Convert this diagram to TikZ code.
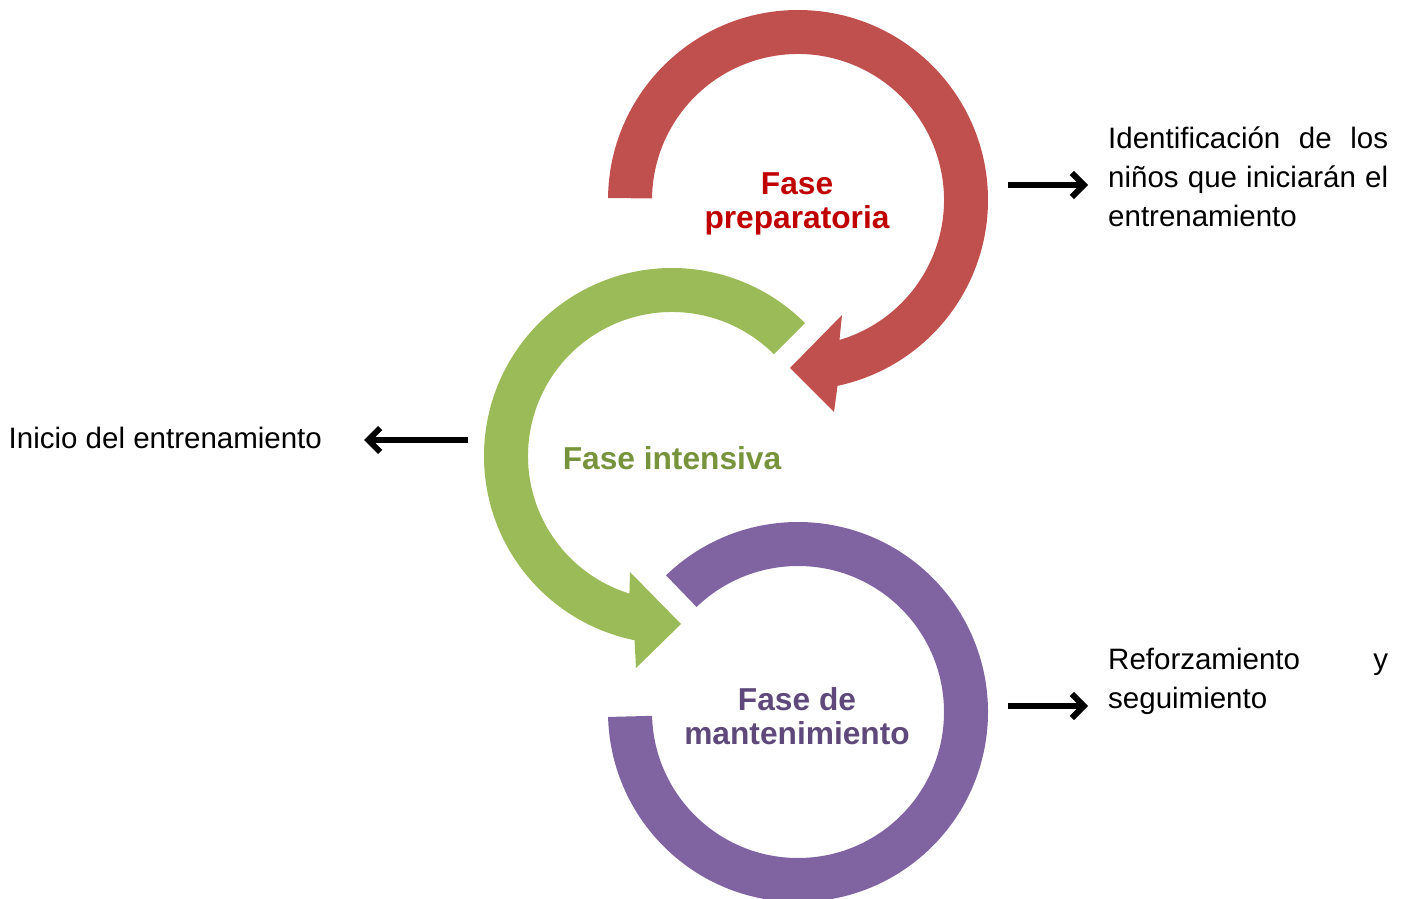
\documentclass[tikz,border=0pt]{standalone}
\usepackage{fontspec}
\setmainfont{Liberation Sans}
\usetikzlibrary{arrows.meta}
\definecolor{ringred}{HTML}{C0504D}
\definecolor{ringgreen}{HTML}{9BBB59}
\definecolor{ringpurple}{HTML}{8064A2}
\definecolor{labred}{HTML}{C00000}
\definecolor{labgreen}{HTML}{77933C}
\definecolor{labpurple}{HTML}{5F497A}
\tikzset{
  phase/.style={align=center, inner sep=0pt, font=\fontsize{31.7pt}{34pt}\selectfont\bfseries},
  txt/.style={inner sep=0pt, font=\fontsize{29.5pt}{39pt}\selectfont},
  pointer/.style={line width=6pt, black, -{Straight Barb[length=12pt,width=24pt]}}
}
\begin{document}
\begin{tikzpicture}[x=1pt,y=1pt]
\useasboundingbox (0,0) rectangle (1405,898);
\clip (0,0) rectangle (1405,898);
% green ring (Fase intensiva)
\begin{scope}[shift={(672,442)}]
\fill[ringgreen] (45:188pt) arc[start angle=45, end angle=258.5, radius=188pt]
  -- (-36pt,-212pt) -- (9pt,-168pt) -- (-42pt,-116pt)
  -- (252.8:144pt) arc[start angle=252.8, end angle=45, radius=144pt] -- cycle;
\end{scope}
% red ring (Fase preparatoria)
\begin{scope}[shift={(798,698)}]
\fill[ringred] (179.4:190pt) arc[start angle=179.4, end angle=-78, radius=190pt]
  -- (36pt,-212pt) -- (-8pt,-168pt) -- (44pt,-115pt)
  -- (-73.5:146pt) arc[start angle=-73.5, end angle=179.4, radius=146pt] -- cycle;
\end{scope}
% purple ring (Fase de mantenimiento)
\begin{scope}[shift={(798,186)}]
\fill[ringpurple] (134:190pt) arc[start angle=134, end angle=-178.5, radius=190pt]
  -- (-178.5:146pt) arc[start angle=-178.5, end angle=134, radius=146pt] -- cycle;
\end{scope}
% phase labels
\node[phase, text=labred] (prep) at (797,694.5) {Fase\\preparatoria};
\node[phase, text=labgreen] (inten) at (672,440) {Fase intensiva};
\node[phase, text=labpurple] (mant) at (797,181.5) {Fase de\\mantenimiento};
% side texts
\node[txt, anchor=base west] (t1) at (1108,749) {\parbox[t]{280pt}{\makebox[280pt][s]{Identificación de los}\\\makebox[280pt][s]{niños que iniciarán el}\\entrenamiento}};
\node[txt, anchor=base west] (t2) at (8.5,449) {Inicio del entrenamiento};
\node[txt, anchor=base west] (t3) at (1108,228.5) {\parbox[t]{280pt}{\makebox[280pt][s]{Reforzamiento y}\\seguimiento}};
% arrows
\coordinate (a1s) at (1008,713);
\coordinate (a1e) at (1088,713);
\coordinate (a2s) at (468,458);
\coordinate (a2e) at (364,458);
\coordinate (a3s) at (1008,192);
\coordinate (a3e) at (1088,192);
\draw[pointer] (a1s) -- (a1e);
\draw[pointer] (a2s) -- (a2e);
\draw[pointer] (a3s) -- (a3e);
\end{tikzpicture}
\end{document}
